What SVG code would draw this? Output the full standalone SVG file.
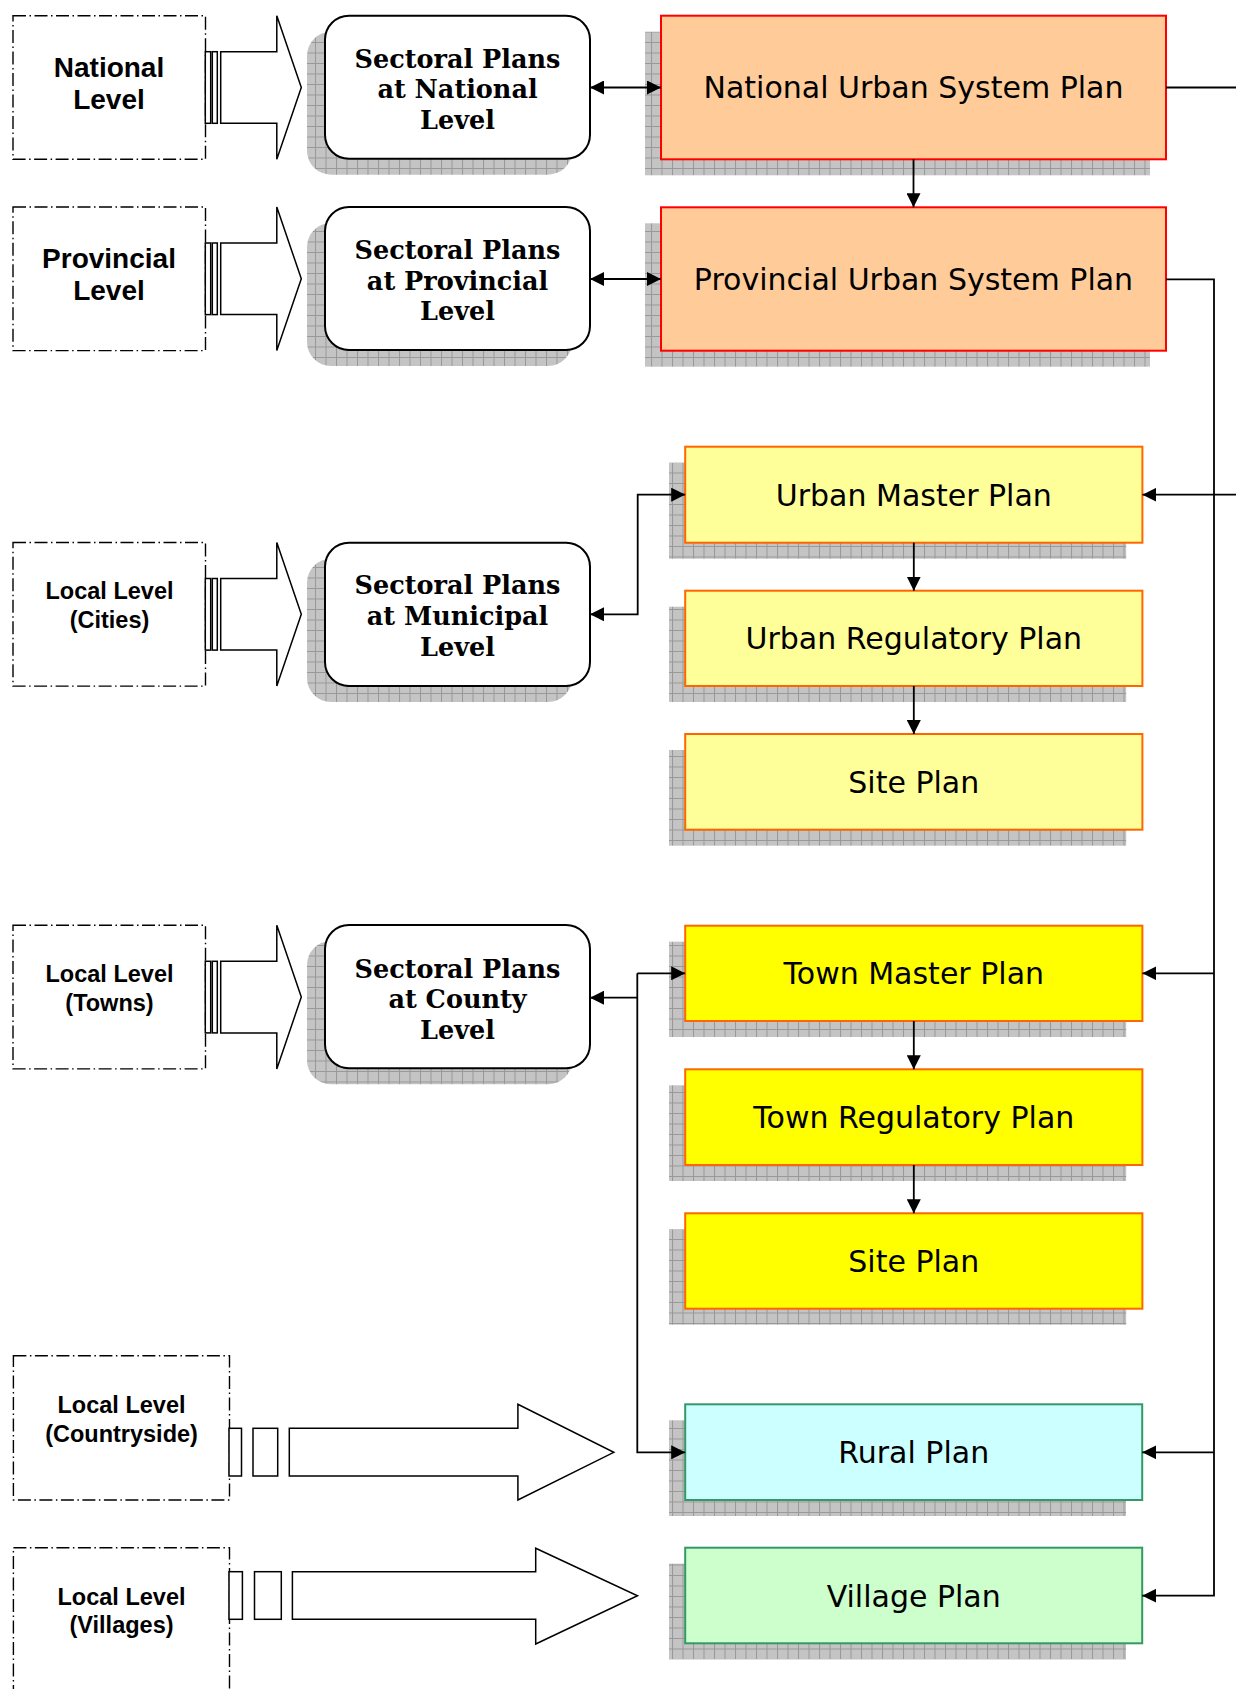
<svg xmlns="http://www.w3.org/2000/svg" width="1236" height="1689" viewBox="0 0 1236 1689">
  <style>
    .lvl { fill: none; stroke: #000; stroke-width: 1.4; stroke-dasharray: 13 3.5 1.5 3.5; }
    .blk { fill: #fff; stroke: #000; stroke-width: 1.5; }
    .sec { fill: #fff; stroke: #000; stroke-width: 2; }
    .shd { fill: url(#grid); }
    .orange { fill: #FFCC99; stroke: #FF0000; stroke-width: 2; }
    .ylight { fill: #FFFF99; stroke: #FF6600; stroke-width: 2; }
    .ystrong { fill: #FFFF00; stroke: #FF6600; stroke-width: 2; }
    .rural { fill: #CCFFFF; stroke: #339966; stroke-width: 2; }
    .village { fill: #CCFFCC; stroke: #339966; stroke-width: 2; }
    .t-lvl { font-family: "Liberation Sans", Arial, sans-serif; font-weight: bold; text-anchor: middle; fill: #000; }
    .t-sec { font-family: "DejaVu Serif", "Liberation Serif", serif; font-weight: bold; font-size: 25.5px; text-anchor: middle; fill: #000; }
    .t-plan { font-family: "DejaVu Sans", "Liberation Sans", sans-serif; font-size: 30px; text-anchor: middle; fill: #000; }
    .con { fill: none; stroke: #000; stroke-width: 1.8; }
  </style>
  <defs>
    <pattern id="grid" width="10.5" height="10.5" patternUnits="userSpaceOnUse">
      <rect width="10.5" height="10.5" fill="#c4c4c4"/>
      <path d="M0,0.5 H10.5 M0.5,0 V10.5" stroke="#989898" stroke-width="1"/>
    </pattern>
    <marker id="ah" viewBox="0 0 14 14" refX="14" refY="7" markerWidth="14" markerHeight="14" markerUnits="userSpaceOnUse" orient="auto-start-reverse">
      <path d="M0,0 L14,7 L0,14 z" fill="#000"/>
    </marker>
  </defs>

  <!-- level boxes with striped block arrows -->
  <g id="national-level">
    <rect class="lvl" x="13" y="15.7" width="192.5" height="143.6"/>
    <text class="t-lvl" font-size="28" x="109" y="77">National</text>
    <text class="t-lvl" font-size="28" x="109" y="109">Level</text>
    <rect class="blk" x="205.3" y="51.7" width="5.4" height="71.6"/>
    <rect class="blk" x="212.3" y="51.7" width="5" height="71.6"/>
    <polygon class="blk" points="220.7,51.7 276.8,51.7 276.8,15.7 301.3,87.5 276.8,159.3 276.8,123.3 220.7,123.3"/>
  </g>
  <g id="provincial-level">
    <rect class="lvl" x="13" y="207" width="192.5" height="143.6"/>
    <text class="t-lvl" font-size="28" x="109" y="268">Provincial</text>
    <text class="t-lvl" font-size="28" x="109" y="300">Level</text>
    <rect class="blk" x="205.3" y="243" width="5.4" height="71.6"/>
    <rect class="blk" x="212.3" y="243" width="5" height="71.6"/>
    <polygon class="blk" points="220.7,243 276.8,243 276.8,207 301.3,278.8 276.8,350.6 276.8,314.6 220.7,314.6"/>
  </g>
  <g id="cities-level">
    <rect class="lvl" x="13" y="542.5" width="192.5" height="143.6"/>
    <text class="t-lvl" font-size="23.5" x="109.5" y="599">Local Level</text>
    <text class="t-lvl" font-size="23.5" x="109.5" y="627.5">(Cities)</text>
    <rect class="blk" x="205.3" y="578.5" width="5.4" height="71.6"/>
    <rect class="blk" x="212.3" y="578.5" width="5" height="71.6"/>
    <polygon class="blk" points="220.7,578.5 276.8,578.5 276.8,542.5 301.3,614.3 276.8,686.1 276.8,650.1 220.7,650.1"/>
  </g>
  <g id="towns-level">
    <rect class="lvl" x="13" y="925.3" width="192.5" height="143.6"/>
    <text class="t-lvl" font-size="23.5" x="109.5" y="981.5">Local Level</text>
    <text class="t-lvl" font-size="23.5" x="109.5" y="1010.5">(Towns)</text>
    <rect class="blk" x="205.3" y="961.3" width="5.4" height="71.6"/>
    <rect class="blk" x="212.3" y="961.3" width="5" height="71.6"/>
    <polygon class="blk" points="220.7,961.3 276.8,961.3 276.8,925.3 301.3,997.1 276.8,1068.9 276.8,1032.9 220.7,1032.9"/>
  </g>
  <g id="countryside-level">
    <rect class="lvl" x="13.4" y="1355.7" width="216.1" height="144.3"/>
    <text class="t-lvl" font-size="23.5" x="121.5" y="1413">Local Level</text>
    <text class="t-lvl" font-size="23.5" x="121.5" y="1442">(Countryside)</text>
    <rect class="blk" x="229" y="1428.3" width="12.5" height="47.7"/>
    <rect class="blk" x="253" y="1428.3" width="24.7" height="47.7"/>
    <polygon class="blk" points="289.3,1428.3 517.9,1428.3 517.9,1404.3 613.8,1452.3 517.9,1500 517.9,1476 289.3,1476"/>
  </g>
  <g id="villages-level">
    <rect class="lvl" x="13.4" y="1547.7" width="216.1" height="160"/>
    <text class="t-lvl" font-size="23.5" x="121.5" y="1605">Local Level</text>
    <text class="t-lvl" font-size="23.5" x="121.5" y="1633">(Villages)</text>
    <rect class="blk" x="229" y="1571.7" width="13.4" height="47.6"/>
    <rect class="blk" x="254.5" y="1571.7" width="26.8" height="47.6"/>
    <polygon class="blk" points="292.4,1571.7 535.7,1571.7 535.7,1548.3 637.5,1595.7 535.7,1644 535.7,1619.3 292.4,1619.3"/>
  </g>

  <!-- sectoral plan boxes -->
  <g id="sectoral-national">
    <rect class="shd" x="307" y="31.7" width="265" height="143" rx="24"/>
    <rect class="sec" x="325" y="15.7" width="265" height="143" rx="24"/>
    <text class="t-sec" x="457.5" y="67.7">Sectoral Plans</text>
    <text class="t-sec" x="457.5" y="98.3">at National</text>
    <text class="t-sec" x="457.5" y="129">Level</text>
  </g>
  <g id="sectoral-provincial">
    <rect class="shd" x="307" y="223" width="265" height="143" rx="24"/>
    <rect class="sec" x="325" y="207" width="265" height="143" rx="24"/>
    <text class="t-sec" x="457.5" y="259">Sectoral Plans</text>
    <text class="t-sec" x="457.5" y="289.5">at Provincial</text>
    <text class="t-sec" x="457.5" y="320.2">Level</text>
  </g>
  <g id="sectoral-municipal">
    <rect class="shd" x="307" y="558.7" width="265" height="143.3" rx="24"/>
    <rect class="sec" x="325" y="542.7" width="265" height="143.3" rx="24"/>
    <text class="t-sec" x="457.5" y="594">Sectoral Plans</text>
    <text class="t-sec" x="457.5" y="625">at Municipal</text>
    <text class="t-sec" x="457.5" y="656">Level</text>
  </g>
  <g id="sectoral-county">
    <rect class="shd" x="307" y="941" width="265" height="143.3" rx="24"/>
    <rect class="sec" x="325" y="925" width="265" height="143.3" rx="24"/>
    <text class="t-sec" x="457.5" y="977.5">Sectoral Plans</text>
    <text class="t-sec" x="457.5" y="1008.2">at County</text>
    <text class="t-sec" x="457.5" y="1039">Level</text>
  </g>

  <!-- plan boxes -->
  <g id="national-urban-system-plan">
    <rect class="shd" x="645" y="31.7" width="505" height="143.6"/>
    <rect class="orange" x="661" y="15.7" width="505" height="143.6"/>
    <text class="t-plan" x="913.5" y="98.3">National Urban System Plan</text>
  </g>
  <g id="provincial-urban-system-plan">
    <rect class="shd" x="645" y="223.3" width="505" height="143.4"/>
    <rect class="orange" x="661" y="207.3" width="505" height="143.4"/>
    <text class="t-plan" x="913.5" y="290">Provincial Urban System Plan</text>
  </g>
  <g id="urban-master-plan">
    <rect class="shd" x="669" y="462.7" width="457.2" height="96"/>
    <rect class="ylight" x="685.2" y="446.7" width="457.2" height="96"/>
    <text class="t-plan" x="913.8" y="505.5">Urban Master Plan</text>
  </g>
  <g id="urban-regulatory-plan">
    <rect class="shd" x="669" y="606.7" width="457.2" height="95.3"/>
    <rect class="ylight" x="685.2" y="590.7" width="457.2" height="95.3"/>
    <text class="t-plan" x="913.8" y="649.3">Urban Regulatory Plan</text>
  </g>
  <g id="urban-site-plan">
    <rect class="shd" x="669" y="750" width="457.2" height="95.7"/>
    <rect class="ylight" x="685.2" y="734" width="457.2" height="95.7"/>
    <text class="t-plan" x="913.8" y="792.8">Site Plan</text>
  </g>
  <g id="town-master-plan">
    <rect class="shd" x="669" y="941.7" width="457.2" height="95.3"/>
    <rect class="ystrong" x="685.2" y="925.7" width="457.2" height="95.3"/>
    <text class="t-plan" x="913.8" y="984.3">Town Master Plan</text>
  </g>
  <g id="town-regulatory-plan">
    <rect class="shd" x="669" y="1085.3" width="457.2" height="95.7"/>
    <rect class="ystrong" x="685.2" y="1069.3" width="457.2" height="95.7"/>
    <text class="t-plan" x="913.8" y="1128.2">Town Regulatory Plan</text>
  </g>
  <g id="town-site-plan">
    <rect class="shd" x="669" y="1229.3" width="457.2" height="95.4"/>
    <rect class="ystrong" x="685.2" y="1213.3" width="457.2" height="95.4"/>
    <text class="t-plan" x="913.8" y="1272">Site Plan</text>
  </g>
  <g id="rural-plan">
    <rect class="shd" x="669" y="1420.3" width="457" height="95.7"/>
    <rect class="rural" x="685.2" y="1404.3" width="457" height="95.7"/>
    <text class="t-plan" x="913.7" y="1463.2">Rural Plan</text>
  </g>
  <g id="village-plan">
    <rect class="shd" x="669" y="1563.7" width="457" height="95.6"/>
    <rect class="village" x="685.2" y="1547.7" width="457" height="95.6"/>
    <text class="t-plan" x="913.7" y="1606.5">Village Plan</text>
  </g>

  <!-- connectors -->
  <g id="connectors">
    <line class="con" x1="590" y1="87.5" x2="661" y2="87.5" marker-start="url(#ah)" marker-end="url(#ah)"/>
    <line class="con" x1="590" y1="279" x2="661" y2="279" marker-start="url(#ah)" marker-end="url(#ah)"/>
    <line class="con" x1="913.5" y1="159.3" x2="913.5" y2="207.3" marker-end="url(#ah)"/>
    <line class="con" x1="1166" y1="87.5" x2="1236" y2="87.5"/>
    <line class="con" x1="1236" y1="494.7" x2="1142.4" y2="494.7" marker-end="url(#ah)"/>
    <path class="con" d="M1166,279.3 H1214 V1595.7 H1142.2" marker-end="url(#ah)"/>
    <path class="con" d="M1214,973.3 H1142.4" marker-end="url(#ah)"/>
    <path class="con" d="M1214,1452.3 H1142.2" marker-end="url(#ah)"/>
    <line class="con" x1="913.8" y1="542.7" x2="913.8" y2="590.7" marker-end="url(#ah)"/>
    <line class="con" x1="913.8" y1="686" x2="913.8" y2="734" marker-end="url(#ah)"/>
    <path class="con" d="M590,614.3 H637.7 V494.7 H685.2" marker-start="url(#ah)" marker-end="url(#ah)"/>
    <line class="con" x1="913.8" y1="1021" x2="913.8" y2="1069.3" marker-end="url(#ah)"/>
    <line class="con" x1="913.8" y1="1165" x2="913.8" y2="1213.3" marker-end="url(#ah)"/>
    <path class="con" d="M637.3,997.7 H590" marker-end="url(#ah)"/>
    <path class="con" d="M637.3,973.3 H685.2" marker-end="url(#ah)"/>
    <path class="con" d="M637.3,973.3 V1452.3 H685.2" marker-end="url(#ah)"/>
  </g>
</svg>
